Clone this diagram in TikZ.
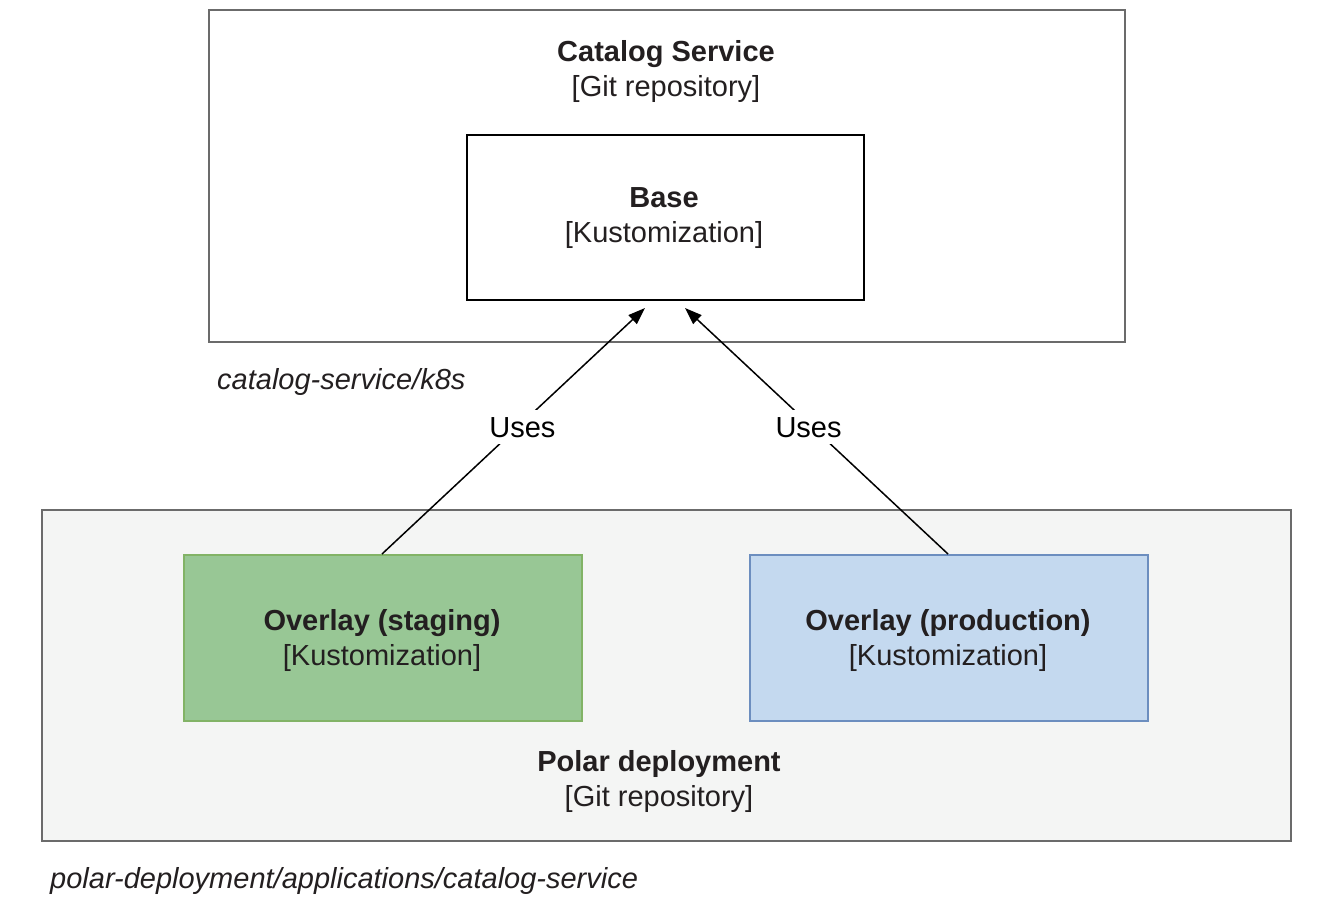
\documentclass[tikz,border=0pt]{standalone}
\usepackage{fontspec}
\setmainfont{Liberation Sans}
\usetikzlibrary{arrows.meta}
\definecolor{txt}{HTML}{231F20}
\definecolor{grayline}{HTML}{6B6B6B}
\definecolor{bgpanel}{HTML}{F4F5F4}
\definecolor{greenfill}{HTML}{98C795}
\definecolor{greenline}{HTML}{82B366}
\definecolor{bluefill}{HTML}{C4D9EF}
\definecolor{blueline}{HTML}{6C8EBF}
\tikzset{
  lbl/.style={text=txt, font=\fontsize{29}{35}\selectfont, align=center, inner sep=0pt},
  pathlbl/.style={text=txt, font=\fontsize{29}{35}\selectfont\itshape, anchor=west, inner sep=0pt},
  uselbl/.style={text=black, font=\fontsize{29}{35}\selectfont, fill=white, inner xsep=2pt, inner ysep=7pt},
  conn/.style={draw=black, line width=1.5pt, -{Triangle[length=17pt,width=12pt]}}
}
\begin{document}
\begin{tikzpicture}[x=1pt,y=-1pt]
\useasboundingbox (0,0) rectangle (1325,908);
% containers
\draw[grayline, line width=1.8pt, fill=white] (209,10) rectangle (1125,342);
\draw[grayline, line width=1.8pt, fill=bgpanel] (42,510) rectangle (1291,841);
% boxes
\node[draw=black, line width=2pt, fill=white, minimum width=397pt, minimum height=165pt, inner sep=0pt] (base) at (665.5,217.5) {};
\node[draw=greenline, line width=2pt, fill=greenfill, minimum width=398pt, minimum height=166pt, inner sep=0pt] (stag) at (383,638) {};
\node[draw=blueline, line width=2pt, fill=bluefill, minimum width=398pt, minimum height=166pt, inner sep=0pt] (prod) at (949,638) {};
% texts
\node[lbl] (cst) at (666,71) {\textbf{Catalog Service}\\{}[Git repository]};
\node[lbl] (bt) at (664,218) {\textbf{Base}\\{}[Kustomization]};
\node[lbl] (st) at (382,640) {\textbf{Overlay (staging)}\\{}[Kustomization]};
\node[lbl] (pt) at (948,640) {\textbf{Overlay (production)}\\{}[Kustomization]};
\node[lbl] (pdt) at (659,781) {\textbf{Polar deployment}\\{}[Git repository]};
\node[pathlbl] (p1) at (217,382) {catalog-service/k8s};
\node[pathlbl] (p2) at (50,881) {polar-deployment/applications/catalog-service};
% connectors
\coordinate (t1) at (645,308);
\coordinate (t2) at (685,308);
\draw[conn] (stag.north west) ++(199,0) -- node[uselbl, pos=0.515, xshift=5pt] {Uses} (t1);
\draw[conn] (prod.north west) ++(199,0) -- node[uselbl, pos=0.515, xshift=-4pt] {Uses} (t2);
\end{tikzpicture}
\end{document}
